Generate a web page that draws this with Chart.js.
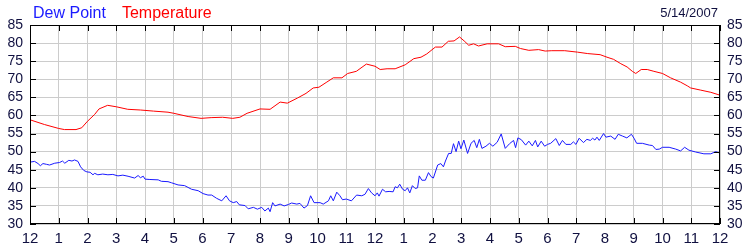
<!DOCTYPE html>
<html>
<head>
<meta charset="utf-8">
<script src="https://cdn.jsdelivr.net/npm/chart.js@4/dist/chart.umd.min.js"></script>
<style>
  html, body { margin: 0; padding: 0; background: #fff; }
</style>
</head>
<body>
<canvas id="grafica" width="750" height="250"></canvas>
<script>
// Datos (hora del dia, 0 = medianoche)
const dateLabel = "5/14/2007";
const hourLabels = ["12", "1", "2", "3", "4", "5", "6", "7", "8", "9", "10", "11",
                    "12", "1", "2", "3", "4", "5", "6", "7", "8", "9", "10", "11", "12"];

const tempHours = [0, 0.5, 1, 1.2, 1.6, 1.8, 2, 2.25, 2.4, 2.7, 3, 3.4, 3.85, 4.3, 4.8, 5, 5.5, 5.95,
  6.3, 6.7, 7.05, 7.3, 7.55, 8, 8.35, 8.7, 8.95, 9.3, 9.6, 9.85, 10.05, 10.3, 10.55, 10.85, 11.05,
  11.35, 11.7, 12, 12.18, 12.42, 12.7, 13.05, 13.35, 13.6, 13.8, 14.1, 14.33, 14.55, 14.75, 14.94,
  15.1, 15.26, 15.43, 15.6, 15.9, 16.3, 16.53, 16.88, 17.06, 17.35, 17.69, 17.92, 18.15, 18.6,
  19.04, 19.4, 19.83, 20.07, 20.3, 20.55, 20.77, 20.95, 21.07, 21.26, 21.47, 21.7, 22, 22.28,
  22.63, 22.86, 22.98, 23.33, 23.68, 24];
const tempValues = [58.8, 57.5, 56.4, 56.1, 56.1, 56.6, 58.4, 60.3, 61.8, 62.8, 62.4, 61.7, 61.5, 61.2, 60.9, 60.6, 59.7, 59.2,
  59.4, 59.5, 59.2, 59.5, 60.6, 61.8, 61.7, 63.7, 63.4, 64.8, 66.1, 67.6, 67.8, 69.1, 70.4, 70.4, 71.6,
  72.2, 74.2, 73.6, 72.7, 72.9, 72.9, 74.0, 75.7, 76.1, 77.0, 78.9, 78.9, 80.5, 80.6, 81.7,
  80.6, 79.4, 79.8, 79.2, 79.8, 79.8, 79.0, 79.1, 78.5, 78.0, 78.2, 77.8, 77.9, 77.9,
  77.5, 77.1, 76.8, 76.1, 75.5, 74.3, 73.4, 72.2, 71.6, 72.7, 72.7, 72.2, 71.6, 70.4,
  69.2, 68.2, 67.6, 67.0, 66.4, 65.6];

const dewHours = [0, 0.16, 0.28, 0.36, 0.45, 0.57, 0.68, 0.86, 1.03, 1.13, 1.21, 1.35, 1.46, 1.55, 1.67, 1.76, 1.87, 1.98,
  2.09, 2.19, 2.25, 2.36, 2.53, 2.71, 2.88, 3.06, 3.23, 3.41, 3.64, 3.76, 3.84, 3.94, 4, 4.17, 4.46, 4.57,
  4.8, 4.92, 5.15, 5.38, 5.62, 5.85, 6.02, 6.19, 6.32, 6.49, 6.67, 6.82, 6.94, 7.07, 7.19, 7.28, 7.48,
  7.59, 7.77, 7.91, 8.06, 8.17, 8.29, 8.35, 8.44, 8.52, 8.7, 8.84, 8.99, 9.1, 9.28, 9.39, 9.53, 9.65,
  9.76, 9.88, 10.09, 10.2, 10.38, 10.46, 10.55, 10.67, 10.78, 10.87, 11, 11.18, 11.36, 11.54, 11.65,
  11.77, 11.88, 12, 12.08, 12.14, 12.26, 12.37, 12.49, 12.63, 12.7, 12.78, 12.86, 12.96, 13.05, 13.13,
  13.21, 13.3, 13.4, 13.48, 13.54, 13.63, 13.75, 13.86, 13.95, 14.03, 14.18, 14.29, 14.38, 14.45,
  14.56, 14.65, 14.73, 14.82, 14.91, 14.99, 15.09, 15.22, 15.34, 15.45, 15.54, 15.63, 15.72, 15.86,
  15.98, 16.1, 16.25, 16.39, 16.53, 16.68, 16.82, 16.89, 16.97, 17.09, 17.24, 17.35, 17.47, 17.58,
  17.66, 17.78, 17.9, 18, 18.11, 18.29, 18.41, 18.52, 18.64, 18.81, 18.9, 18.99, 19.1, 19.25, 19.37,
  19.49, 19.57, 19.65, 19.72, 19.8, 19.95, 20.03, 20.2, 20.35, 20.46, 20.61, 20.76, 20.92, 21.01,
  21.1, 21.3, 21.54, 21.65, 21.77, 21.89, 22, 22.23, 22.46, 22.63, 22.77, 22.92, 23.15, 23.44, 23.68,
  23.85, 24];
const dewValues = [47.1, 47.3, 46.7, 46.1, 46.7, 46.5, 46.3, 46.8, 47.0, 47.4, 46.8, 47.6, 47.4, 47.7, 47.3, 45.8, 44.8, 44.4,
  44.3, 43.6, 44.0, 43.6, 43.8, 43.6, 43.7, 43.3, 43.5, 43.2, 42.7, 43.4, 42.8, 43.2, 42.4, 42.3, 42.2, 41.8,
  41.7, 41.4, 40.8, 40.6, 39.6, 39.2, 38.4, 38.0, 38.0, 37.1, 36.4, 37.8, 36.4, 35.9, 36.2, 35.3, 35.1,
  34.2, 34.6, 34.1, 34.6, 33.6, 34.4, 33.4, 35.9, 35.0, 35.5, 35.0, 35.4, 35.8, 35.5, 35.7, 34.4, 35.1,
  37.8, 35.9, 35.9, 35.5, 36.4, 37.8, 36.4, 38.8, 37.8, 36.7, 36.9, 36.4, 38.0, 37.8, 38.2,
  39.8, 38.6, 37.8, 38.6, 37.7, 39.6, 38.9, 39.0, 38.9, 40.3, 40.0, 41.0, 39.6, 39.2, 40.0,
  38.6, 40.6, 39.8, 40.0, 43.3, 42.1, 42.1, 44.2, 43.1, 42.7, 46.3, 46.7, 45.8, 47.4,
  49.5, 49.5, 52.2, 50.0, 52.9, 50.8, 53.2, 49.5, 52.3, 53.1, 51.1, 53.4, 50.9, 51.5,
  52.3, 51.5, 52.6, 54.9, 50.9, 52.2, 53.1, 51.1, 53.8, 53.3, 51.8, 52.9, 51.6, 53.1,
  51.3, 52.9, 51.5, 52.0, 52.3, 53.6, 51.7, 53.1, 52.0, 52.0, 52.7, 52.0, 53.7, 52.5, 53.4,
  53.1, 53.7, 53.2, 54.0, 53.1, 55.0, 54.0, 54.3, 53.4, 54.8, 54.3, 53.8, 54.8, 53.7,
  52.3, 52.3, 51.8, 51.7, 50.6, 50.7, 51.2, 51.2, 50.7, 50.2, 51.2, 50.4, 49.9, 49.4, 49.4,
  50.0, 49.6];

const colorTexto = "#101040";
const colorRejilla = "#cccccc";

// Encabezado (leyenda y fecha) y marcas interiores del marco
const decoracion = {
    id: "decoracion",
    afterDraw(chart) {
        const ctx = chart.ctx;
        const area = chart.chartArea;
        ctx.save();

        // marco negro
        ctx.strokeStyle = "#000";
        ctx.lineWidth = 1;
        ctx.strokeRect(Math.round(area.left) + 0.5, Math.round(area.top) + 0.5,
            Math.round(area.right - area.left) - 1, Math.round(area.bottom - area.top) - 1);

        // marcas hacia dentro
        ctx.beginPath();
        const x = chart.scales.x;
        x.ticks.forEach(t => {
            const px = Math.round(x.getPixelForValue(t.value)) + 0.5;
            ctx.moveTo(px, area.top);
            ctx.lineTo(px, area.top + 6);
            ctx.moveTo(px, area.bottom);
            ctx.lineTo(px, area.bottom - 6);
        });
        const y = chart.scales.y;
        y.ticks.forEach(t => {
            const py = Math.round(y.getPixelForValue(t.value)) + 0.5;
            ctx.moveTo(area.left, py);
            ctx.lineTo(area.left + 6, py);
            ctx.moveTo(area.right, py);
            ctx.lineTo(area.right - 6, py);
        });
        ctx.stroke();

        // leyenda
        ctx.font = "16px 'Liberation Sans', Arial, sans-serif";
        ctx.textBaseline = "alphabetic";
        ctx.textAlign = "left";
        let lx = 33;
        chart.data.datasets.forEach(ds => {
            ctx.fillStyle = ds.borderColor;
            ctx.fillText(ds.label, lx, 18);
            lx += ctx.measureText(ds.label).width + 16;
        });

        // fecha
        ctx.font = "13px 'Liberation Sans', Arial, sans-serif";
        ctx.fillStyle = colorTexto;
        ctx.textAlign = "right";
        ctx.fillText(dateLabel, 718, 17);
        ctx.restore();
    }
};

const ejeY = (lado) => ({
    position: lado,
    min: 30,
    max: 85,
    grid: lado === "left" ? { color: colorRejilla, drawTicks: false } : { display: false, drawTicks: false },
    border: { display: false },
    ticks: {
        stepSize: 5,
        autoSkip: false,
        padding: 7,
        color: colorTexto,
        font: { family: "'Liberation Sans', Arial, sans-serif", size: 14 }
    },
    afterFit: s => { s.width = 30; }
});

const ctx = document.getElementById("grafica").getContext("2d");
new Chart(ctx, {
    type: "line",
    data: {
        datasets: [
            {
                label: "Dew Point",
                data: dewHours.map((h, i) => ({ x: h, y: dewValues[i] })),
                borderColor: "#1a1aff",
                borderWidth: 1,
                pointRadius: 0,
                tension: 0,
                yAxisID: "y"
            },
            {
                label: "Temperature",
                data: tempHours.map((h, i) => ({ x: h, y: tempValues[i] })),
                borderColor: "#ff0000",
                borderWidth: 1,
                pointRadius: 0,
                tension: 0,
                yAxisID: "y"
            }
        ]
    },
    options: {
        responsive: false,
        animation: false,
        maintainAspectRatio: false,
        devicePixelRatio: 1,
        layout: { padding: { top: 25, left: 0, right: 0, bottom: 0 } },
        plugins: {
            legend: { display: false },
            title: { display: false },
            tooltip: { enabled: false }
        },
        scales: {
            x: {
                type: "linear",
                min: 0,
                max: 24,
                grid: { color: colorRejilla, drawTicks: false },
                border: { display: false },
                ticks: {
                    stepSize: 1,
                    autoSkip: false,
                    maxRotation: 0,
                    padding: 6,
                    color: colorTexto,
                    font: { family: "'Liberation Sans', Arial, sans-serif", size: 15 },
                    callback: v => hourLabels[v]
                },
                afterFit: s => { s.height = 26; }
            },
            y: ejeY("left"),
            y2: ejeY("right")
        }
    },
    plugins: [decoracion]
});
</script>
</body>
</html>
